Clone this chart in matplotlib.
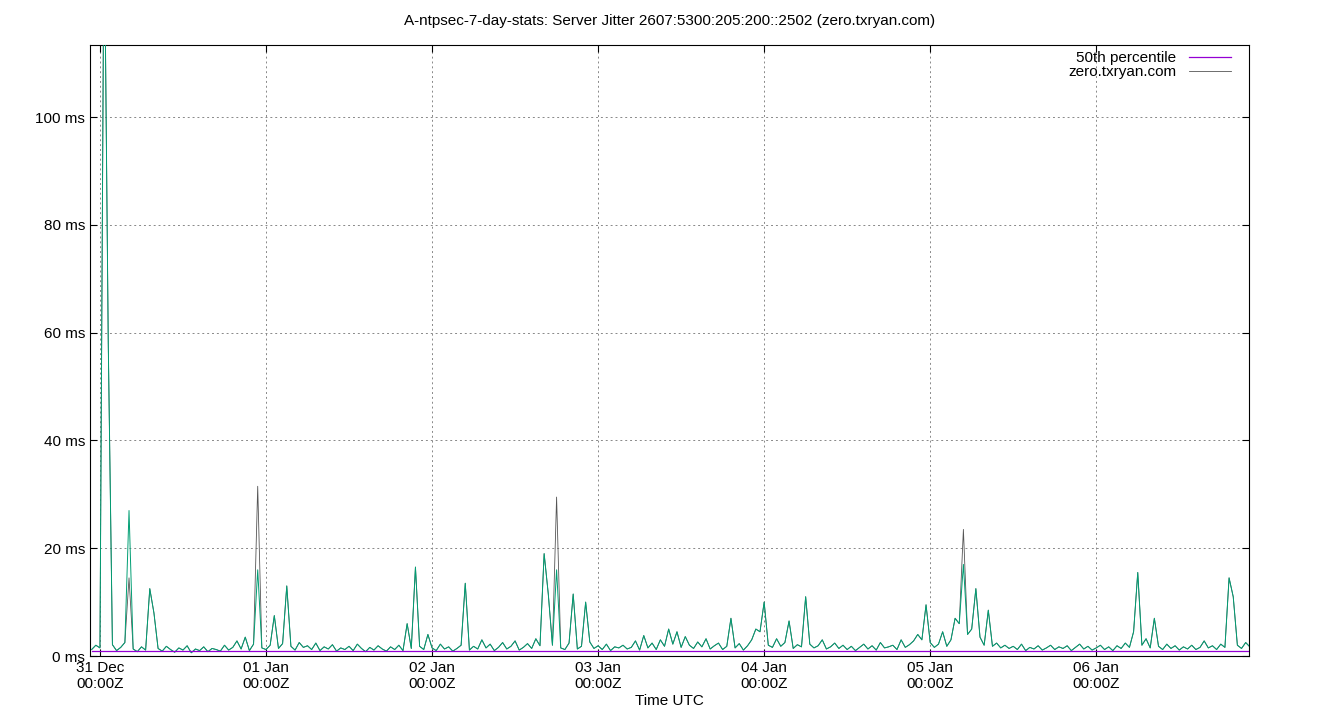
import matplotlib
matplotlib.use("Agg")
import matplotlib.pyplot as plt
import numpy as np

plt.rcParams['font.family'] = ['Liberation Sans', 'DejaVu Sans']

t_start = -0.05   # days since 31 Dec 00:00Z
t_step = 0.025
jitter = [
 1.2,2.0,1.5,140,58,2.1,1.0,1.6,2.5,27,1.3,0.8,1.7,1.1,12.5,8,1.4,0.9,1.8,1.2,
 0.7,1.5,1.1,1.9,0.6,1.3,1.0,1.7,0.8,1.4,1.2,0.9,2.0,1.1,1.6,2.8,1.3,3.5,1.0,2.2,
 16,1.5,1.2,2.0,7.5,1.4,2.3,13,1.8,1.1,2.5,1.6,1.9,1.2,2.4,1.0,1.7,1.3,2.1,0.9,
 1.5,1.2,1.8,1.0,2.2,1.4,0.8,1.6,1.1,1.9,1.3,0.9,1.7,1.2,2.0,1.0,6,1.4,16.5,1.8,
 1.2,4,1.5,1.0,2.2,1.3,1.7,0.9,1.4,2.0,13.5,1.1,1.8,1.3,3.0,1.5,2.2,1.0,1.6,2.5,
 1.3,1.8,2.8,1.1,1.6,2.3,1.4,3.2,1.9,19,11.5,2.0,16,1.5,1.2,2.4,11.5,1.3,1.8,10,
 2.6,1.4,1.9,1.2,2.2,1.0,1.7,1.5,2.0,1.3,1.6,2.8,1.1,3.8,1.5,2.4,1.2,3.0,1.8,5,
 2.2,4.5,1.6,3.6,2.0,1.4,2.6,1.7,3.2,1.3,1.9,2.4,1.2,1.8,7,1.5,2.3,1.1,1.9,3.0,
 5,4.5,10,2.0,1.6,3.2,1.8,2.5,6.5,1.4,2.1,1.7,11,2.2,1.5,1.9,3.0,1.3,1.7,2.4,
 1.4,2.0,1.2,1.8,1.0,1.6,2.2,1.3,1.9,1.1,2.5,1.5,1.7,2.0,1.2,3.0,1.6,2.1,2.8,4,
 3.0,9.5,2.5,1.6,2.2,4.5,1.8,3.0,7,6,17,4,5,12.5,3.5,2.0,8.5,1.8,2.4,1.5,
 2.0,1.4,1.8,1.2,2.2,1.0,1.6,1.3,1.9,1.1,1.5,2.0,1.2,1.7,1.4,1.9,1.0,1.6,2.2,1.3,
 1.8,1.1,1.5,2.0,1.2,1.7,1.0,1.9,1.4,2.4,1.6,4.5,15.5,2.0,3.2,1.5,7,1.8,1.2,2.2,
 1.4,1.9,1.1,1.7,1.3,2.0,1.2,1.6,2.8,1.5,1.9,1.2,2.2,1.6,14.5,11,2.0,1.4,2.5,1.7,
]
gray_spike_idx = [9, 40, 112, 162, 210]
gray_spike_val = [14.5, 31.5, 29.5, 10, 23.5]
median_ms = 1.0
tick_labels = ["31 Dec\n00:00Z", "01 Jan\n00:00Z", "02 Jan\n00:00Z", "03 Jan\n00:00Z",
               "04 Jan\n00:00Z", "05 Jan\n00:00Z", "06 Jan\n00:00Z"]

t = t_start + t_step * np.arange(len(jitter))
gray = np.array(jitter, dtype=float)
for i, v in zip(gray_spike_idx, gray_spike_val):
    gray[i] = v

fig = plt.figure(figsize=(13.4, 7.2), dpi=100)
ax = fig.add_axes([90/1340, 64/720, 1159/1340, 611/720])
ax.plot(t, gray, color='#555555', lw=0.6, label='zero.txryan.com', zorder=2)
ax.plot(t, jitter, color='#009e73', lw=0.7, zorder=3)
ax.plot([t[0], t[-1]], [median_ms, median_ms], color='#9400d3', lw=0.9, label='50th percentile', zorder=4)

ax.set_xlim(-0.06, 6.92)
ax.set_ylim(0, 113.4)
ax.set_xticks(range(7))
ax.set_xticklabels(tick_labels, fontsize=11)
ax.set_yticks(range(0, 101, 20))
ax.set_yticklabels([f"{v} ms" for v in range(0, 101, 20)], fontsize=11)
ax.tick_params(direction='in', top=True, right=True, length=5)
ax.grid(True, linestyle=(0, (2, 3)), color='#888888', lw=0.7)
ax.set_xlabel("Time UTC", fontsize=11, labelpad=2)
fig.text(0.5, 1 - 21/720, "A-ntpsec-7-day-stats: Server Jitter 2607:5300:205:200::2502 (zero.txryan.com)",
         ha='center', va='center', fontsize=11)
h, l = ax.get_legend_handles_labels()
ax.legend(h[::-1], l[::-1], loc='upper right', frameon=False, markerfirst=False,
          fontsize=11, handlelength=2.8, borderaxespad=0.1, borderpad=0.3,
          labelspacing=0.0, bbox_to_anchor=(0.99, 1.0))
fig.savefig("out.png", dpi=100)
